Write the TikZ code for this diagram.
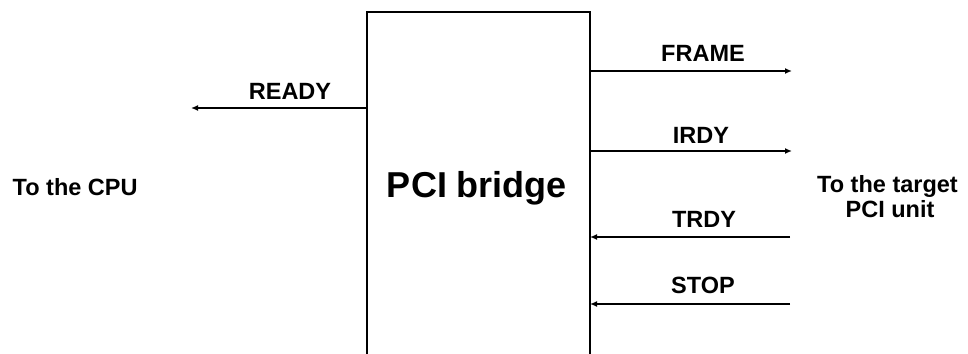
\documentclass[tikz,border=0pt]{standalone}
\usepackage{fontspec}
\setmainfont{Liberation Sans}
\usetikzlibrary{arrows.meta}
\tikzset{
  lbl/.style={anchor=base, inner sep=0pt, font=\bfseries\fontsize{23.5}{27}\selectfont},
  sig/.style={line width=2pt, -{Latex[length=7pt,width=6pt]}},
  boxline/.style={line width=2.8pt}
}
\begin{document}
\begin{tikzpicture}[x=1pt,y=-1pt]
\useasboundingbox (0,0) rectangle (968,353);
% bridge box (open at the bottom)
\coordinate (bnw) at (367,12);
\coordinate (bne) at (590,12);
\coordinate (bsw) at (367,358);
\coordinate (bse) at (590,358);
\draw[boxline] (bsw) -- (bnw) -- (bne) -- (bse);
\node[anchor=base, inner sep=0pt, font=\bfseries\fontsize{36}{40}\selectfont] (title) at (477,197) {PCI bridge};
% left side
\node[lbl, anchor=base west] (cpu) at (12.5,195) {To the CPU};
\coordinate (readyEnd) at (191,108);
\draw[sig] (bnw |- readyEnd) -- (readyEnd);
\node[lbl] (ready) at (290,99) {READY};
% right side
\coordinate (frameEnd) at (792,71);
\coordinate (irdyEnd) at (792,151);
\coordinate (trdyStart) at (790,237);
\coordinate (stopStart) at (790,304);
\draw[sig] (bne |- frameEnd) -- (frameEnd);
\draw[sig] (bne |- irdyEnd) -- (irdyEnd);
\draw[sig] (trdyStart) -- (bne |- trdyStart);
\draw[sig] (stopStart) -- (bne |- stopStart);
\node[lbl] (frame) at (703,62) {FRAME};
\node[lbl] (irdy) at (701,143) {IRDY};
\node[lbl] (trdy) at (704,227) {TRDY};
\node[lbl] (stop) at (703,293) {STOP};
\node[lbl] (target1) at (887.5,192) {To the target};
\node[lbl] (target2) at (890,217) {PCI unit};
\end{tikzpicture}
\end{document}
